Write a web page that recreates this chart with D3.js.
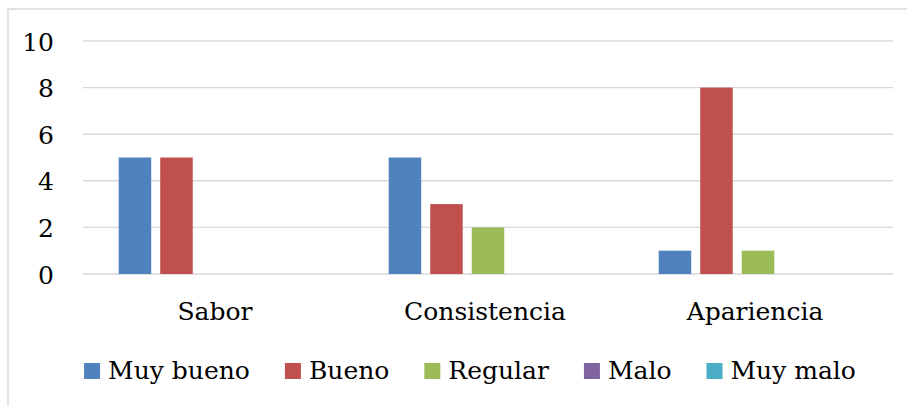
<!DOCTYPE html>
<html>
<head>
<meta charset="utf-8">
<script src="https://cdn.jsdelivr.net/npm/d3@7"></script>
<style>
  body { margin: 0; background: #fff; }
</style>
</head>
<body>
<svg id="chart" width="907" height="406"></svg>
<script>
// data
var categories = ['Sabor', 'Consistencia', 'Apariencia'];
var series = ['Muy bueno', 'Bueno', 'Regular', 'Malo', 'Muy malo'];
var muyBueno = [5, 5, 1];
var bueno = [5, 3, 8];
var regular = [0, 2, 1];
var malo = [0, 0, 0];
var muyMalo = [0, 0, 0];
var yTicks = [0, 2, 4, 6, 8, 10];
var colors = ['#4F81BD', '#C0504D', '#9BBB59', '#8064A2', '#4BACC6'];

var FONT = '"DejaVu Serif", serif';

var values = [muyBueno, bueno, regular, malo, muyMalo];
var rows = categories.map((c, i) => ({
    cat: c,
    vals: series.map((s, j) => ({ key: s, value: values[j][i], color: colors[j] }))
}));

var svg = d3.select('#chart');

// outer border of the chart area
svg.append('rect')
    .attr('x', 8).attr('y', 9)
    .attr('width', 920).attr('height', 420)
    .attr('fill', 'none')
    .attr('stroke', '#d9d9d9')
    .attr('stroke-width', 1.5);

var x0 = d3.scaleBand()
    .domain(categories)
    .range([83, 893]);

var x1 = d3.scaleBand()
    .domain(series)
    .range([0, x0.bandwidth()])
    .paddingInner(0.217)
    .paddingOuter(0.86);

var y = d3.scaleLinear()
    .domain([0, 10])
    .range([274, 41]);

// gridlines
svg.append('g')
    .selectAll('line')
    .data(yTicks)
    .enter()
    .append('line')
    .attr('x1', 83).attr('x2', 893)
    .attr('y1', d => y(d)).attr('y2', d => y(d))
    .attr('stroke', '#d9d9d9')
    .attr('stroke-width', 1.4);

// y axis labels
var yAxis = svg.append('g')
    .attr('transform', 'translate(54,0)')
    .call(d3.axisLeft(y).tickValues(yTicks).tickSize(0).tickPadding(0));
yAxis.select('.domain').remove();
yAxis.attr('font-family', FONT).attr('font-size', 25);
yAxis.selectAll('text')
    .attr('fill', '#000')
    .attr('dy', '0.36em');

// bars
svg.append('g')
    .selectAll('g')
    .data(rows)
    .enter()
    .append('g')
    .attr('transform', d => 'translate(' + x0(d.cat) + ',0)')
    .selectAll('rect')
    .data(d => d.vals.filter(v => v.value > 0))
    .enter()
    .append('rect')
    .attr('x', d => x1(d.key))
    .attr('width', x1.bandwidth())
    .attr('y', d => y(d.value))
    .attr('height', d => y(0) - y(d.value))
    .attr('fill', d => d.color);

// category labels
svg.append('g')
    .attr('font-family', FONT)
    .attr('font-size', 25)
    .selectAll('text')
    .data(categories)
    .enter()
    .append('text')
    .attr('x', d => x0(d) + x0.bandwidth() / 2 - 3)
    .attr('y', 320)
    .attr('text-anchor', 'middle')
    .text(d => d);

// legend
var legend = svg.append('g')
    .attr('font-family', FONT)
    .attr('font-size', 25);
var items = legend.selectAll('g')
    .data(series)
    .enter()
    .append('g');
items.append('rect')
    .attr('width', 16).attr('height', 16)
    .attr('y', 363)
    .attr('fill', (d, i) => colors[i]);
items.append('text')
    .attr('x', 24)
    .attr('y', 379)
    .text(d => d);

var gap = 35, pos = 0, widths = [];
items.each(function () {
    widths.push(24 + this.querySelector('text').getComputedTextLength());
});
var total = d3.sum(widths) + gap * (widths.length - 1);
pos = 470 - total / 2;
items.attr('transform', (d, i) => {
    var t = 'translate(' + pos + ',0)';
    pos += widths[i] + gap;
    return t;
});
</script>
</body>
</html>
